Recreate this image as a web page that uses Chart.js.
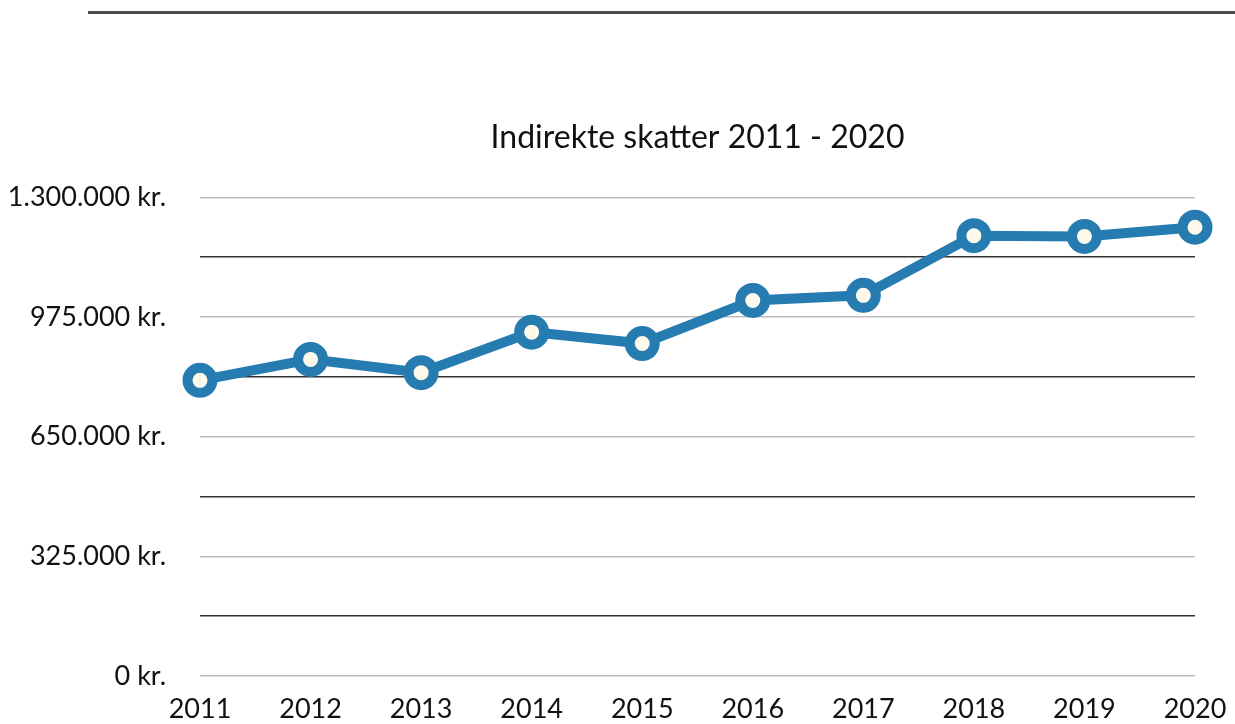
<!DOCTYPE html>
<html>
<head>
<meta charset="utf-8">
<script src="https://cdn.jsdelivr.net/npm/chart.js@4"></script>
<style>
  html, body { margin: 0; padding: 0; background: #fff; }
  #wrap { position: relative; width: 1235px; height: 724px; }
  #rule { position: absolute; left: 88px; top: 11px; width: 1147px; height: 3px; background: #4d4d4d; }
  canvas { position: absolute; left: 0; top: 0; }
</style>
</head>
<body>
<div id="wrap">
  <div id="rule"></div>
  <canvas id="chart" width="1235" height="724"></canvas>
</div>
<script>
//---------------------- Data -----------------------//
const years = ['2011', '2012', '2013', '2014', '2015', '2016', '2017', '2018', '2019', '2020'];
const skatter = [803000, 860000, 824000, 934000, 903000, 1020000, 1034000, 1196000, 1194000, 1219000];
const yMax = 1300000;
const yStep = 162500;

const fontFamily = 'Lato, "Noto Sans", sans-serif';

function formatKr(value) {
    return value.toLocaleString('da-DK').replace(/,/g, '.') + ' kr.';
}

new Chart(document.getElementById('chart'), {
    type: 'line',
    data: {
        labels: years,
        datasets: [{
            label: 'Indirekte skatter',
            data: skatter,
            borderColor: '#267cb0',
            borderWidth: 10,
            pointRadius: 12.5,
            pointBorderWidth: 10,
            pointBackgroundColor: '#fff9ec',
            pointBorderColor: '#267cb0',
            tension: 0
        }]
    },
    options: {
        responsive: false,
        animation: false,
        layout: { padding: { left: 0, right: 40, top: 0, bottom: 0 } },
        plugins: {
            legend: { display: false },
            tooltip: { enabled: false },
            title: {
                display: true,
                fullSize: false,
                text: 'Indirekte skatter 2011 - 2020',
                color: '#111',
                font: { family: fontFamily, size: 32, weight: 'normal', lineHeight: 1.2 },
                padding: { top: 118, bottom: 41 }
            }
        },
        scales: {
            x: {
                offset: false,
                // invisible tick marks give the gap between axis and labels
                grid: { display: false, drawTicks: true, tickLength: 17, tickColor: 'rgba(0,0,0,0)' },
                border: { display: false },
                ticks: {
                    color: '#111',
                    padding: 0,
                    maxRotation: 0,
                    font: { family: fontFamily, size: 27 }
                },
                afterFit(scale) { scale.height = 48; }
            },
            y: {
                min: 0,
                max: yMax,
                grid: {
                    drawTicks: true,
                    tickLength: 34,
                    tickColor: 'rgba(0,0,0,0)',
                    lineWidth: 1.5,
                    color(ctx) {
                        return (ctx.tick && Math.round(ctx.tick.value / yStep) % 2 === 1) ? '#333' : '#bdbdbd';
                    }
                },
                border: { display: false },
                ticks: {
                    stepSize: yStep,
                    padding: 0,
                    color: '#111',
                    font: { family: fontFamily, size: 27 },
                    callback(value) {
                        return Math.round(value / yStep) % 2 === 0 ? formatKr(value) : '';
                    }
                },
                afterFit(scale) { scale.width = 200; }
            }
        }
    }
});
</script>
</body>
</html>
